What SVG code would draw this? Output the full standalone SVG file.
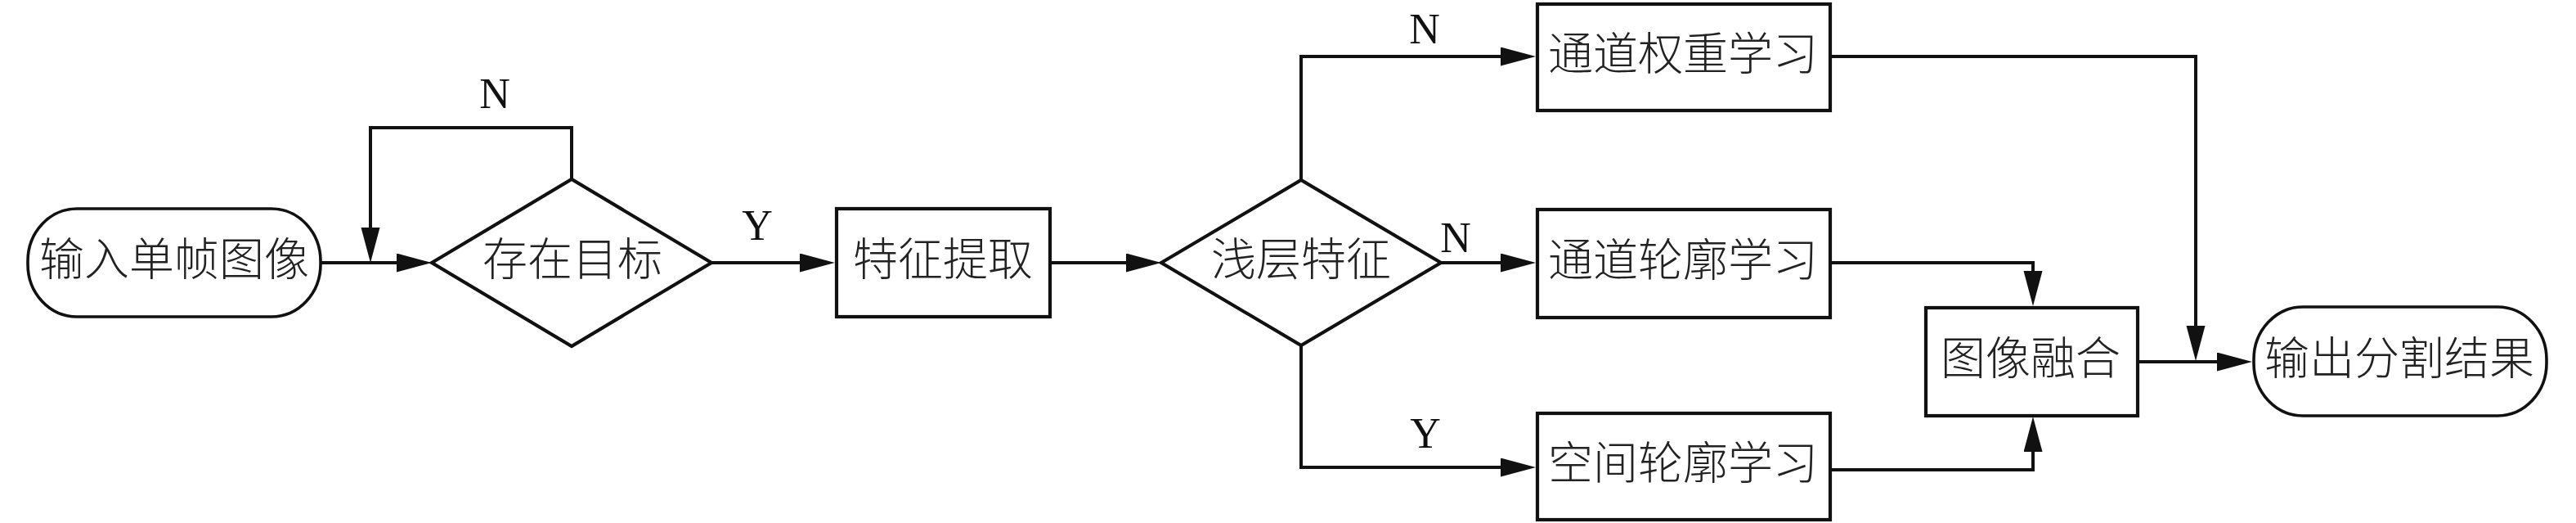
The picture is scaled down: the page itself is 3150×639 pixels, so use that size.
<svg xmlns="http://www.w3.org/2000/svg" width="3150" height="639" viewBox="0 0 3150 639">
<style>
.box{fill:#fff;stroke:#111;stroke-width:4.2}
.term{fill:#fff;stroke:#111;stroke-width:3.6}
.edge{fill:none;stroke:#111;stroke-width:4}
.t{font-family:"Liberation Serif","Noto Sans CJK SC",serif;font-size:55px;font-weight:300;fill:#222;text-anchor:middle}
.l{font-family:"Liberation Serif",serif;font-size:52px;fill:#111;text-anchor:middle}
</style>
<defs>
<marker id="ah" markerUnits="userSpaceOnUse" markerWidth="44" markerHeight="24" refX="33" refY="11.5" orient="auto">
<path d="M0,0 L43,11.5 L0,23 z" fill="#111"/>
</marker>
</defs>
<rect width="3150" height="639" fill="#fff"/>
<g id="connectors">
<path class="edge" d="M392,321 H518" marker-end="url(#ah)"/>
<path class="edge" d="M699,219 V156 H453 V311" marker-end="url(#ah)"/>
<path class="edge" d="M870,321 H1011" marker-end="url(#ah)"/>
<path class="edge" d="M1284,321 H1410" marker-end="url(#ah)"/>
<path class="edge" d="M1591,220 V69 H1868" marker-end="url(#ah)"/>
<path class="edge" d="M1762,321 H1868" marker-end="url(#ah)"/>
<path class="edge" d="M1591,422 V571 H1868" marker-end="url(#ah)"/>
<path class="edge" d="M2238,69 H2685 V431" marker-end="url(#ah)"/>
<path class="edge" d="M2238,321 H2486 V364" marker-end="url(#ah)"/>
<path class="edge" d="M2238,574 H2486 V519" marker-end="url(#ah)"/>
<path class="edge" d="M2614,442 H2744" marker-end="url(#ah)"/>
<text class="l" x="605" y="132">N</text>
<text class="l" x="926" y="293">Y</text>
<text class="l" x="1742" y="53">N</text>
<text class="l" x="1780" y="308">N</text>
<text class="l" x="1743" y="547">Y</text>
</g>
<g id="start">
<rect class="term" x="34" y="255" width="358" height="132" rx="60" ry="64"/>
<text class="t" x="213" y="336">输入单帧图像</text>
</g>
<g id="hasTarget">
<polygon class="box" points="528,321 699,219 870,321 699,423"/>
<text class="t" x="700" y="336">存在目标</text>
</g>
<g id="featureExtract">
<rect class="box" x="1023" y="255" width="261" height="132"/>
<text class="t" x="1153" y="336">特征提取</text>
</g>
<g id="shallowFeature">
<polygon class="box" points="1420,321 1591,220 1762,321 1591,422"/>
<text class="t" x="1591" y="336">浅层特征</text>
</g>
<g id="channelWeight">
<rect class="box" x="1880" y="5" width="358" height="130"/>
<text class="t" x="2058" y="85">通道权重学习</text>
</g>
<g id="channelContour">
<rect class="box" x="1880" y="256" width="358" height="132"/>
<text class="t" x="2058" y="337">通道轮廓学习</text>
</g>
<g id="spatialContour">
<rect class="box" x="1880" y="505" width="358" height="130"/>
<text class="t" x="2058" y="585">空间轮廓学习</text>
</g>
<g id="fusion">
<rect class="box" x="2355" y="376" width="259" height="132"/>
<text class="t" x="2483" y="457">图像融合</text>
</g>
<g id="output">
<rect class="term" x="2756" y="375" width="358" height="133" rx="60" ry="64"/>
<text class="t" x="2934" y="457">输出分割结果</text>
</g>
</svg>
